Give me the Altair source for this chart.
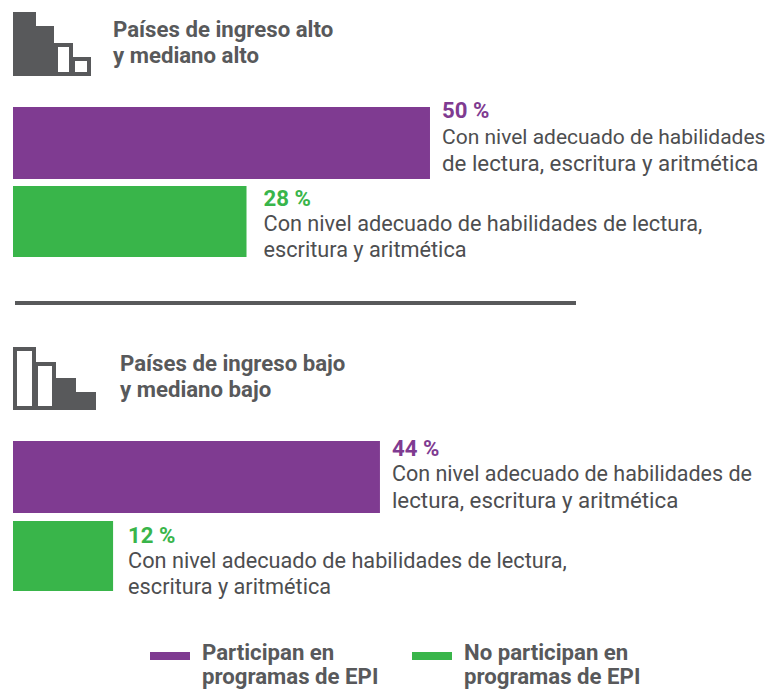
import altair as alt
import pandas as pd

# Values
groups = [["Países de ingreso alto", "y mediano alto"], ["Países de ingreso bajo", "y mediano bajo"]]
participan = [50, 44]
no_participan = [28, 12]
label_part = [["Con nivel adecuado de habilidades", "de lectura, escritura y aritmética"],
              ["Con nivel adecuado de habilidades de", "lectura, escritura y aritmética"]]
label_no = [["Con nivel adecuado de habilidades de lectura,", "escritura y aritmética"],
            ["Con nivel adecuado de habilidades de lectura,", "escritura y aritmética"]]
legend_labels = [["Participan en", "programas de EPI"], ["No participan en", "programas de EPI"]]

PURPLE = "#7f3b91"
GREEN = "#39b54a"
GRAY = "#58595b"
TEXT = "#4d4e50"
FONT = "Roboto"
OFF = 8  # page margin
W, H = 760, 681

xscale = alt.Scale(domain=[-0.6, 90.53], range=[0, W], nice=False, zero=False)
layers = []

def V(v):
    return alt.value(v - OFF)

def rect(x0, x1, y0, y1, fill, stroke=None, sw=0):
    kw = dict(fill=fill)
    if stroke:
        kw.update(stroke=stroke, strokeWidth=sw)
    layers.append(alt.Chart().mark_rect(**kw).encode(x=V(x0), x2=V(x1), y=V(y0), y2=V(y1)))

def text(t, x, y, color=GRAY, size=22.2, bold=False):
    layers.append(alt.Chart().mark_text(align="left", baseline="alphabetic", font=FONT, fontSize=size,
                                        fontWeight="bold" if bold else "normal", color=color, text=t)
                  .encode(x=V(x), y=V(y)))

def bar(val, y0, y1, color, lines, ys, dx, sizes):
    d = pd.DataFrame({"v": [val], "z": [0], "t": [f"{val} %"]})
    base = alt.Chart(d)
    layers.append(base.mark_bar(color=color, cornerRadius=0).encode(
        x=alt.X("z:Q", scale=xscale, axis=None), x2="v:Q", y=V(y0), y2=V(y1)))
    layers.append(base.mark_text(align="left", baseline="alphabetic", font=FONT, fontSize=22.2, fontWeight="bold",
                                 color=color, dx=dx).encode(
        x=alt.X("v:Q", scale=xscale, axis=None), y=V(ys[0]), text="t:N"))
    for ln, yy, s in zip(lines, ys[1:], sizes):
        layers.append(base.mark_text(align="left", baseline="alphabetic", font=FONT, fontSize=s,
                                     color=TEXT, dx=dx, text=ln).encode(
            x=alt.X("v:Q", scale=xscale, axis=None), y=V(yy)))

# Icon 1
rect(13, 36, 12, 76, GRAY)
rect(36, 54, 26, 76, GRAY)
rect(56, 71, 45, 74, "white", GRAY, 4)
rect(73, 89, 59, 74, "white", GRAY, 4)
# Icon 2
rect(15, 34, 349, 408, "white", GRAY, 4)
rect(36, 54, 364, 408, "white", GRAY, 4)
rect(56, 76, 378, 410, GRAY)
rect(76, 96, 392, 410, GRAY)

for i, (x, ys) in enumerate(zip([113, 120], [(37, 63), (371, 397)])):
    for ln, yy in zip(groups[i], ys):
        text(ln, x, yy, bold=True)

bar(participan[0], 107, 179, PURPLE, label_part[0], (118, 144, 171), 12, (21.0, 22.3))
bar(no_participan[0], 186, 257, GREEN, label_no[0], (206, 231, 257), 17, (21.7, 21.7))
bar(participan[1], 441, 513, PURPLE, label_part[1], (456, 481, 508), 12, (21.5, 22.3))
bar(no_participan[1], 521, 591, GREEN, label_no[1], (543, 568, 594), 15, (21.7, 21.7))

# Divider
rect(15, 576, 301, 305, GRAY)

# Legend
rect(150, 190, 652, 660, PURPLE)
rect(412, 452, 652, 660, GREEN)
for x, lines in zip([202, 464], legend_labels):
    for ln, yy in zip(lines, (660, 684)):
        text(ln, x, yy, bold=True)

chart = alt.layer(*layers).properties(width=W, height=H, padding=0, background="white",
                                      autosize=alt.AutoSizeParams(type="none")
    ).configure_view(strokeWidth=0, stroke="transparent")
chart.save("out.html", embed_options={"renderer": "svg", "actions": False})
